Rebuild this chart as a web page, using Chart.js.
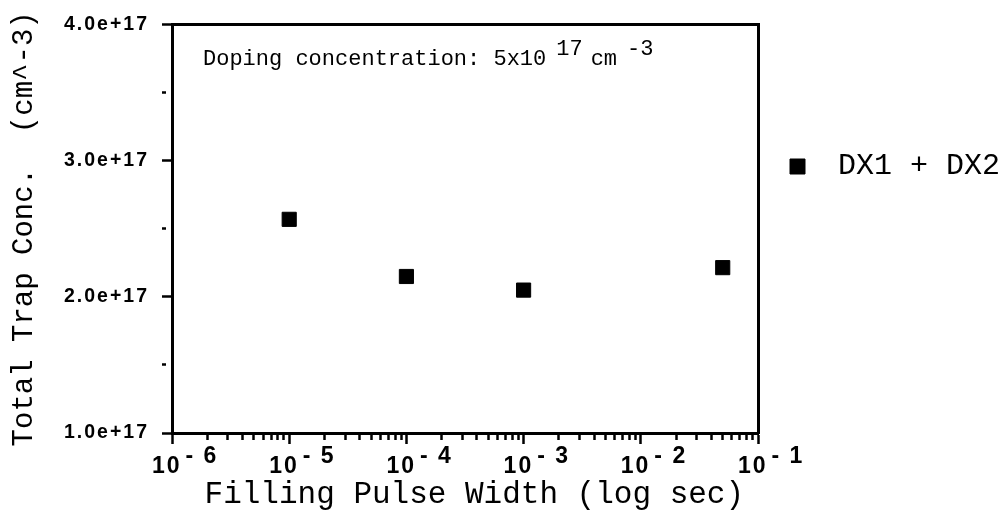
<!DOCTYPE html>
<html lang="en">
<head>
    <meta charset="UTF-8">
    <title>Total Trap Concentration vs Filling Pulse Width</title>
    <style>
        body {
            margin: 0;
            padding: 0;
            background-color: #fff;
        }
        .chart-container {
            position: relative;
            width: 1006px;
            height: 513px;
        }
    </style>
</head>
<body>
    <div class="chart-container">
        <canvas id="myChart"></canvas>
    </div>

    <script src="https://cdn.jsdelivr.net/npm/chart.js"></script>
    <script>
        // measured points: filling pulse width (s) and total trap concentration (cm^-3)
        var pulseWidths = [1e-5, 1e-4, 1e-3, 5e-2];
        var trapConc = [2.57e17, 2.15e17, 2.05e17, 2.215e17];
        var seriesLabel = ' DX1 + DX2';

        // axis ticks
        var xDecades = [-6, -5, -4, -3, -2, -1];
        var yMajorTicks = [1e17, 2e17, 3e17, 4e17];
        var yMinorTicks = [1.5e17, 2.5e17, 3.5e17];

        var mono = "'Liberation Mono', 'Courier New', monospace";
        var sans = "'Liberation Sans', Arial, sans-serif";

        function isDecade(v) {
            var e = Math.log10(v);
            return Math.abs(e - Math.round(e)) < 1e-9;
        }

        function isMajorY(v) {
            return yMajorTicks.some(function (t) { return Math.abs(t - v) < 1e12; });
        }

        // tick numbers sit on layer z=1 (drawn after the points) and get wider letter spacing
        var tickSpacing = {
            id: 'tickSpacing',
            beforeDraw: function (chart) { chart.ctx.letterSpacing = '0px'; },
            afterDatasetsDraw: function (chart) { chart.ctx.letterSpacing = '2px'; }
        };

        // doping note written inside the plot frame, with raised exponents
        var dopingNote = {
            id: 'dopingNote',
            afterDraw: function (chart) {
                var ctx = chart.ctx;
                var area = chart.chartArea;
                var parts = [
                    { text: 'Doping concentration: 5x10', sup: false, gap: 0 },
                    { text: '17', sup: true, gap: 10 },
                    { text: 'cm', sup: false, gap: 8 },
                    { text: '-3', sup: true, gap: 10 }
                ];
                var x = area.left + 31;
                var y = area.top + 40;
                ctx.save();
                ctx.letterSpacing = '0px';
                ctx.font = '22px ' + mono;
                ctx.fillStyle = '#000';
                ctx.textBaseline = 'alphabetic';
                parts.forEach(function (p) {
                    x += p.gap;
                    ctx.fillText(p.text, x, p.sup ? y - 10 : y);
                    x += ctx.measureText(p.text).width;
                });
                ctx.restore();
            }
        };

        var ctx = document.getElementById('myChart').getContext('2d');

        new Chart(ctx, {
            type: 'scatter',
            data: {
                datasets: [{
                    label: seriesLabel,
                    data: pulseWidths.map(function (x, i) { return { x: x, y: trapConc[i] }; }),
                    pointStyle: 'rect',
                    pointRadius: 10,
                    pointHoverRadius: 10,
                    backgroundColor: '#000',
                    borderColor: '#000',
                    borderWidth: 1
                }]
            },
            options: {
                responsive: true,
                maintainAspectRatio: false,
                animation: false,
                events: [],
                layout: {
                    padding: { top: 24, left: 0, right: 0, bottom: 0 }
                },
                plugins: {
                    tooltip: { enabled: false },
                    legend: {
                        position: 'right',
                        align: 'start',
                        maxWidth: 248,
                        title: {
                            display: true,
                            text: '',
                            font: { size: 10, lineHeight: 1 },
                            padding: { top: 85.5, bottom: 0 }
                        },
                        labels: {
                            boxWidth: 15,
                            boxHeight: 15,
                            padding: 32,
                            color: '#000',
                            font: { family: mono, size: 30 }
                        }
                    }
                },
                scales: {
                    x: {
                        type: 'logarithmic',
                        position: 'bottom',
                        min: Math.pow(10, xDecades[0]),
                        max: Math.pow(10, xDecades[xDecades.length - 1]),
                        afterBuildTicks: function (scale) {
                            var ticks = [];
                            xDecades.forEach(function (d, i) {
                                var base = Math.pow(10, d);
                                ticks.push({ value: base, major: true });
                                if (i < xDecades.length - 1) {
                                    for (var m = 2; m <= 9; m++) {
                                        ticks.push({ value: m * base, major: false });
                                    }
                                }
                            });
                            scale.ticks = ticks;
                        },
                        afterFit: function (scale) {
                            scale.height = 80;
                        },
                        border: { display: true, color: '#000', width: 3 },
                        grid: {
                            drawOnChartArea: false,
                            drawTicks: true,
                            tickLength: 11,
                            tickWidth: 2.5,
                            tickColor: '#000',
                            tickBorderDash: function (c) {
                                return c.tick && isDecade(c.tick.value) ? [] : [5, 100];
                            }
                        },
                        ticks: {
                            z: 1,
                            autoSkip: false,
                            maxRotation: 0,
                            minRotation: 0,
                            align: 'start',
                            labelOffset: -20,
                            padding: 8,
                            color: '#000',
                            font: { family: sans, size: 23, weight: 'bold', lineHeight: 0.413 },
                            callback: function (value) {
                                if (!isDecade(value)) return '';
                                var e = Math.round(Math.log10(value));
                                return ['    - ' + (-e), '10'];
                            }
                        },
                        title: {
                            display: true,
                            text: ' Filling Pulse Width (log sec)',
                            color: '#000',
                            font: { family: mono, size: 31 },
                            padding: { top: 0, bottom: 0 }
                        }
                    },
                    x2: {
                        type: 'linear',
                        position: 'top',
                        afterFit: function (scale) {
                            scale.height = 0;
                        },
                        border: { display: true, color: '#000', width: 3 },
                        grid: { drawOnChartArea: false, drawTicks: false },
                        ticks: { display: false }
                    },
                    y: {
                        type: 'linear',
                        position: 'left',
                        min: yMajorTicks[0],
                        max: yMajorTicks[yMajorTicks.length - 1],
                        afterBuildTicks: function (scale) {
                            scale.ticks = yMajorTicks.concat(yMinorTicks)
                                .sort(function (a, b) { return a - b; })
                                .map(function (v) { return { value: v }; });
                        },
                        afterFit: function (scale) {
                            scale.width = 172;
                        },
                        border: { display: true, color: '#000', width: 3 },
                        grid: {
                            drawOnChartArea: false,
                            drawTicks: true,
                            tickLength: 10,
                            tickWidth: 2.5,
                            tickColor: '#000',
                            tickBorderDash: function (c) {
                                return c.tick && isMajorY(c.tick.value) ? [] : [4, 100];
                            }
                        },
                        ticks: {
                            z: 1,
                            autoSkip: false,
                            padding: 13,
                            color: '#000',
                            font: { family: sans, size: 19.5, weight: 'bold' },
                            callback: function (value) {
                                return isMajorY(value) ? value.toExponential(1) : '';
                            }
                        },
                        title: {
                            display: true,
                            text: 'Total Trap Conc.  (cm^-3)',
                            color: '#000',
                            font: { family: mono, size: 29 },
                            padding: { top: 7, bottom: 0 }
                        }
                    },
                    y2: {
                        type: 'linear',
                        position: 'right',
                        afterFit: function (scale) {
                            scale.width = 0;
                        },
                        border: { display: true, color: '#000', width: 3 },
                        grid: { drawOnChartArea: false, drawTicks: false },
                        ticks: { display: false }
                    }
                }
            },
            plugins: [tickSpacing, dopingNote]
        });
    </script>
</body>
</html>
